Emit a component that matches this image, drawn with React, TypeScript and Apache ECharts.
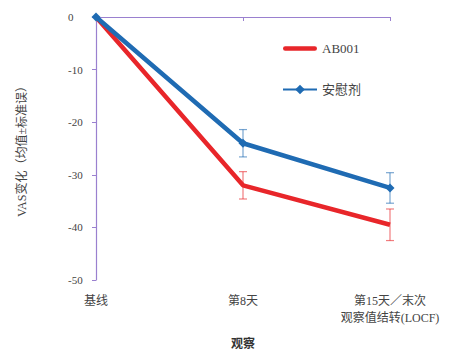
import React, { useEffect, useRef } from "react";
import * as echarts from "echarts";

const categories = ["基线", "第8天", "第15天／末次\n观察值结转(LOCF)"];
const ab001 = [0, -32, -39.5];
const ab001Se = [0, 2.6, 3];
const placebo = [0, -24, -32.5];
const placeboSe = [0, 2.6, 2.9];
const yTicks = { min: -50, max: 0, interval: 10 };

const RED = "#e8262a";
const BLUE = "#1f6bb3";
const AXIS = "#9a80cf";
const SERIF = "'Liberation Serif', 'DejaVu Serif', 'Noto Sans CJK SC', serif";

function errData(vals: number[], se: number[]) {
  return vals.map((v, i) => [i, v - se[i], v + se[i]]).filter((d, i) => se[i] > 0);
}

function errSeries(vals: number[], se: number[], color: string) {
  return {
    type: "custom",
    silent: true,
    z: 1,
    data: errData(vals, se),
    renderItem: (params: any, api: any) => {
      const x = api.value(0);
      const lo = api.coord([x, api.value(1)]);
      const hi = api.coord([x, api.value(2)]);
      const w = 4;
      const style = { stroke: color, lineWidth: 1.2, opacity: 0.6 };
      return {
        type: "group",
        children: [
          { type: "line", shape: { x1: lo[0], y1: lo[1], x2: hi[0], y2: hi[1] }, style },
          { type: "line", shape: { x1: lo[0] - w, y1: lo[1], x2: lo[0] + w, y2: lo[1] }, style },
          { type: "line", shape: { x1: hi[0] - w, y1: hi[1], x2: hi[0] + w, y2: hi[1] }, style },
        ],
      };
    },
  };
}

export default function App() {
  const ref = useRef<HTMLDivElement>(null);
  useEffect(() => {
    const chart = echarts.init(ref.current!, undefined, { renderer: "svg" });
    chart.setOption({
      animation: false,
      backgroundColor: "#ffffff",
      grid: { left: 82, right: 73, top: 9, bottom: 88 },
      legend: {
        orient: "vertical",
        left: 269,
        top: 29,
        itemWidth: 34,
        itemHeight: 12,
        itemGap: 28,
        textStyle: { fontFamily: SERIF, fontSize: 13, color: "#444" },
        data: [
          { name: "AB001", icon: "path://M2,0 L32,0 A2.2,2.2 0 0 1 32,4.5 L2,4.5 A2.2,2.2 0 0 1 2,0 Z" },
          { name: "安慰剂" },
        ],
      },
      xAxis: {
        type: "category",
        data: categories,
        boundaryGap: false,
        name: "观察",
        nameLocation: "middle",
        nameGap: 58,
        nameTextStyle: { fontFamily: SERIF, fontSize: 12, color: "#333", fontWeight: "bold" },
        axisLine: { lineStyle: { color: AXIS, width: 1.2 } },
        axisTick: { show: true, alignWithLabel: true, length: 4, lineStyle: { color: AXIS } },
        axisLabel: { fontFamily: SERIF, fontSize: 12, color: "#444", margin: 12, lineHeight: 17 },
      },
      yAxis: {
        type: "value",
        min: yTicks.min,
        max: yTicks.max,
        interval: yTicks.interval,
        name: "VAS变化（均值±标准误）",
        nameLocation: "middle",
        nameGap: 68,
        nameRotate: 90,
        nameTextStyle: { fontFamily: SERIF, fontSize: 12, color: "#444" },
        splitLine: { show: false },
        axisLine: { show: true, lineStyle: { color: AXIS, width: 1.2 } },
        axisTick: { show: true, length: 4, lineStyle: { color: AXIS } },
        axisLabel: { fontFamily: SERIF, fontSize: 11, color: "#444", margin: 28, align: "left" },
      },
      series: [
        errSeries(ab001, ab001Se, RED),
        errSeries(placebo, placeboSe, BLUE),
        {
          name: "AB001",
          type: "line",
          data: ab001,
          symbol: "none",
          itemStyle: { color: RED },
          lineStyle: { color: RED, width: 4.5 },
          z: 2,
        },
        {
          name: "安慰剂",
          type: "line",
          data: placebo,
          symbol: "diamond",
          symbolSize: 9,
          itemStyle: { color: BLUE },
          lineStyle: { color: BLUE, width: 4.5 },
          z: 3,
        },
      ],
    });
    return () => chart.dispose();
  }, []);
  return <div ref={ref} style={{ width: 455, height: 360 }} />;
}
